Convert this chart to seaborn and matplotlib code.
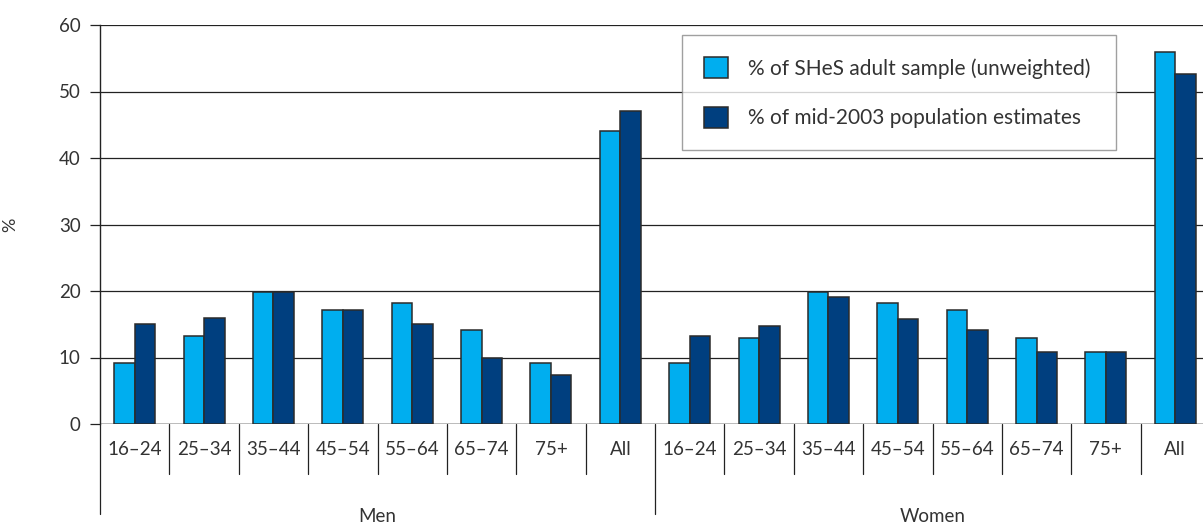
import pandas as pd
import seaborn as sns
import matplotlib.pyplot as plt
import matplotlib.transforms as mtransforms

# values
groups = ['Men', 'Women']
ages = ['16–24', '25–34', '35–44', '45–54', '55–64', '65–74', '75+', 'All']
series = ['% of SHeS adult sample (unweighted)', '% of mid-2003 population estimates']
sample_men = [9.1, 13.2, 19.9, 17.2, 18.2, 14.2, 9.2, 44.1]
popn_men = [15.1, 16.0, 19.9, 17.2, 15.0, 9.9, 7.3, 47.0]
sample_women = [9.1, 13.0, 19.9, 18.2, 17.1, 13.0, 10.9, 55.9]
popn_women = [13.2, 14.8, 19.1, 15.8, 14.1, 10.9, 10.9, 52.7]

colors = ['#00aeef', '#003f7f']

rows = []
for g, s_vals, p_vals in [('Men', sample_men, popn_men), ('Women', sample_women, popn_women)]:
    for a, s, p in zip(ages, s_vals, p_vals):
        rows.append({'cat': g + ' ' + a, 'series': series[0], 'value': s})
        rows.append({'cat': g + ' ' + a, 'series': series[1], 'value': p})
df = pd.DataFrame(rows)
order = [g + ' ' + a for g in groups for a in ages]

sns.set_style('white')
plt.rcParams['font.family'] = ['Lato', 'DejaVu Sans']
plt.rcParams['text.color'] = '#333333'

W, H = 1203, 523
fig = plt.figure(figsize=(W / 100, H / 100), dpi=100)
ax = fig.add_axes([100 / W, (523 - 424) / H, 1110 / W, 399 / H])

sns.barplot(data=df, x='cat', y='value', hue='series', order=order, hue_order=series,
            palette=colors, width=0.59, gap=0, edgecolor='#2b2b2b', linewidth=1.1,
            saturation=1, ax=ax)

ax.set_ylim(0, 60)
ax.set_xlim(-0.5, len(order) - 0.5)
ax.set_yticks(range(0, 61, 10))
ax.yaxis.grid(True, color='#222222', linewidth=0.9)
ax.set_axisbelow(True)
for side in ['top', 'right', 'bottom']:
    ax.spines[side].set_visible(False)
ax.spines['left'].set_color('#222222')
ax.spines['left'].set_linewidth(1.0)
ax.axhline(0, color='#222222', linewidth=1.0, zorder=0)

ax.tick_params(axis='y', which='both', left=True, length=7, width=0.9, color='#222222',
               pad=7, labelsize=13.5, labelcolor='#333333')
ax.set_xticks(range(len(order)))
ax.set_xticklabels(ages * 2, fontsize=13.5, color='#333333')
ax.tick_params(axis='x', length=0, pad=12)
ax.set_xlabel('')
ax.set_ylabel('%', fontsize=13, color='#333333')
ax.yaxis.set_label_coords((18 - 100) / 1110, 0.5)

# separators under the category axis
trans = mtransforms.blended_transform_factory(ax.transData, ax.transAxes)
for i in range(len(order) + 1):
    x = i - 0.5
    if i % len(ages) == 0:
        ax.plot([x, x], [0, -0.226], transform=trans, color='#222222', lw=0.9, clip_on=False)
    else:
        ax.plot([x, x], [0, -0.125], transform=trans, color='#222222', lw=0.9, clip_on=False)
for k, g in enumerate(groups):
    ax.text(k * len(ages) + (len(ages) - 1) / 2, -0.232, g, transform=trans,
            ha='center', va='center', fontsize=13.5, color='#333333')

leg = ax.legend(loc='upper left', bbox_to_anchor=(682 / W, 1 - 36 / H, 434 / W, 0.001),
                bbox_transform=fig.transFigure, mode='expand', fontsize=15,
                frameon=True, fancybox=False, handlelength=1.15, handleheight=1.15,
                handletextpad=0.95, labelspacing=1.35, borderpad=1.05, borderaxespad=0)
leg.get_frame().set_edgecolor('#888888')
leg.get_frame().set_linewidth(1.0)
for t in leg.get_texts():
    t.set_color('#333333')

fig.savefig('out.png', dpi=100)
